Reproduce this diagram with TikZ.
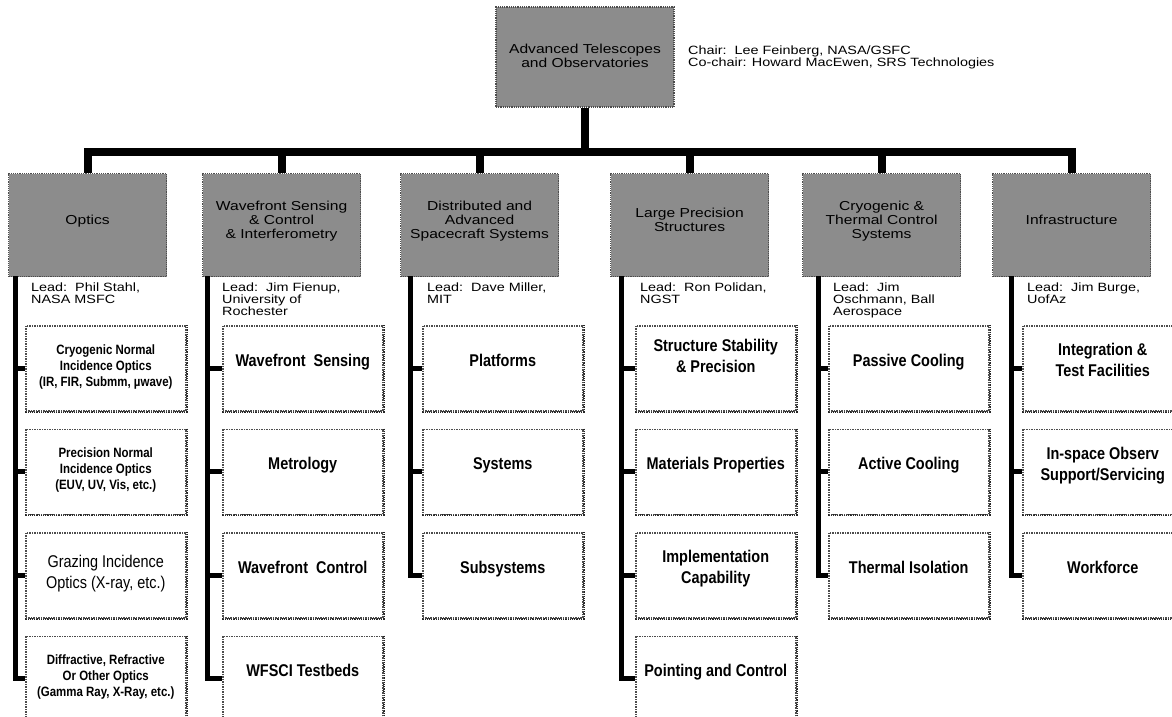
\documentclass[tikz,border=0pt]{standalone}
\usepackage{fontspec}
\setmainfont{Liberation Sans}
\newfontfamily\leadfont[FakeStretch=1.2]{Liberation Sans}
\newfontfamily\itemfont[FakeStretch=0.85]{Liberation Sans}
\definecolor{halftone}{gray}{0.55}
\definecolor{dotline}{gray}{0.3}
\usepackage{tikz}
\usetikzlibrary{positioning}
\tikzset{
  rimline/.style={draw=black!85, dash pattern=on 1.2pt off 1pt, line width=2pt},
  headbox/.style={fill=halftone, draw=dotline, densely dotted, line width=1.2pt,
    minimum width=158pt, minimum height=103pt, align=center, text depth=10pt,
    font=\leadfont\fontsize{13}{14}\selectfont, anchor=north west},
  topbox/.style={headbox, minimum width=178pt, minimum height=100pt, anchor=center,
    text depth=3pt},
  subbox/.style={draw=dotline, densely dotted, line width=1.5pt,
    minimum width=160pt, minimum height=85pt, align=center, text depth=16pt,
    font=\itemfont\bfseries\fontsize{17}{21}\selectfont,
    append after command={\pgfextra{\draw [rimline] (\tikzlastnode.north east)
      -- (\tikzlastnode.south east) -- (\tikzlastnode.south west);}}},
  smallbox/.style={subbox, text depth=6pt, font=\itemfont\bfseries\fontsize{13.5}{16}\selectfont},
  leadtext/.style={anchor=north west, align=left, inner sep=0pt,
    font=\leadfont\fontsize{12}{12}\selectfont},
  trunkline/.style={line width=8pt},
  branchline/.style={line width=5pt},
}

\begin{document}
\begin{tikzpicture}[x=1pt,y=-1pt]
    \useasboundingbox (0,0) rectangle (1172,716);

    % chart head
    \node [topbox] (top) at (585,57) {Advanced Telescopes\\and Observatories};
    \node [leadtext, anchor=west] (chair) at (688,57)
        {Chair:\ \ Lee Feinberg, NASA/GSFC\\Co-chair: Howard MacEwen, SRS Technologies};
    \coordinate (hub) at (585,152);

    % column heads
    \node [headbox] (h1) at (8,173) {Optics};
    \node [headbox] (h2) at (202,173) {Wavefront Sensing\\\& Control\\\& Interferometry};
    \node [headbox] (h3) at (400,173) {Distributed and\\Advanced\\Spacecraft Systems};
    \node [headbox] (h4) at (610,173) {Large Precision\\Structures};
    \node [headbox] (h5) at (802,173) {Cryogenic \&\\Thermal Control\\Systems};
    \node [headbox] (h6) at (992,173) {Infrastructure};

    % leads
    \node [leadtext] (l1) at (31,283) {Lead:\ \ Phil Stahl,\\NASA MSFC};
    \node [leadtext] (l2) at (222,283) {Lead:\ \ Jim Fienup,\\University of\\Rochester};
    \node [leadtext] (l3) at (427,283) {Lead:\ \ Dave Miller,\\MIT};
    \node [leadtext] (l4) at (640,283) {Lead:\ \ Ron Polidan,\\NGST};
    \node [leadtext] (l5) at (833,283) {Lead:\ \ Jim\\Oschmann, Ball\\Aerospace};
    \node [leadtext] (l6) at (1027,283) {Lead:\ \ Jim Burge,\\UofAz};

    % optics
    \node [smallbox, anchor=north west] (o1) at (25,325)
        {Cryogenic Normal\\Incidence Optics\\(IR, FIR, Submm, µwave)};
    \node [smallbox, below=17pt of o1] (o2)
        {Precision Normal\\Incidence Optics\\(EUV, UV, Vis, etc.)};
    \node [subbox, below=17pt of o2, text depth=6pt,
        font=\itemfont\fontsize{17}{21}\selectfont] (o3)
        {Grazing Incidence\\Optics (X-ray, etc.)};
    \node [smallbox, below=17pt of o3] (o4)
        {Diffractive, Refractive\\Or Other Optics\\(Gamma Ray, X-Ray, etc.)};

    % wavefront sensing and control
    \node [subbox, anchor=north west] (w1) at (222,325) {Wavefront\ \ Sensing};
    \node [subbox, below=17pt of w1] (w2) {Metrology};
    \node [subbox, below=17pt of w2] (w3) {Wavefront\ \ Control};
    \node [subbox, below=17pt of w3] (w4) {WFSCI Testbeds};

    % spacecraft systems
    \node [subbox, anchor=north west] (d1) at (422,325) {Platforms};
    \node [subbox, below=17pt of d1] (d2) {Systems};
    \node [subbox, below=17pt of d2] (d3) {Subsystems};

    % structures
    \node [subbox, anchor=north west, text depth=24pt] (s1) at (635,325)
        {Structure Stability\\\& Precision};
    \node [subbox, below=17pt of s1] (s2) {Materials Properties};
    \node [subbox, below=17pt of s2] (s3) {Implementation\\Capability};
    \node [subbox, below=17pt of s3] (s4) {Pointing and Control};

    % cryogenic and thermal
    \node [subbox, anchor=north west] (c1) at (828,325) {Passive Cooling};
    \node [subbox, below=17pt of c1] (c2) {Active Cooling};
    \node [subbox, below=17pt of c2] (c3) {Thermal Isolation};

    % infrastructure
    \node [subbox, anchor=north west] (i1) at (1022,325) {Integration \&\\Test Facilities};
    \node [subbox, below=17pt of i1] (i2) {In-space Observ\\Support/Servicing};
    \node [subbox, below=17pt of i2] (i3) {Workforce};

    % tree
    \draw [trunkline] (top.south) -- (hub);
    \draw [trunkline] (h1.north) |- (hub) -| (h6.north);
    \draw [trunkline] (h2.north) -- (h2.north |- hub);
    \draw [trunkline] (h3.north) -- (h3.north |- hub);
    \draw [trunkline] (h4.north) -- (h4.north |- hub);
    \draw [trunkline] (h5.north) -- (h5.north |- hub);

    \coordinate (sp1) at (15,276);
    \coordinate (sp2) at (207,276);
    \coordinate (sp3) at (410,276);
    \coordinate (sp4) at (621,276);
    \coordinate (sp5) at (818,276);
    \coordinate (sp6) at (1011,276);

    \draw [branchline] (sp1) |- (o4.west);
    \draw [branchline] (o1.west) -- (o1.west -| sp1);
    \draw [branchline] (o2.west) -- (o2.west -| sp1);
    \draw [branchline] (o3.west) -- (o3.west -| sp1);

    \draw [branchline] (sp2) |- (w4.west);
    \draw [branchline] (w1.west) -- (w1.west -| sp2);
    \draw [branchline] (w2.west) -- (w2.west -| sp2);
    \draw [branchline] (w3.west) -- (w3.west -| sp2);

    \draw [branchline] (sp3) |- (d3.west);
    \draw [branchline] (d1.west) -- (d1.west -| sp3);
    \draw [branchline] (d2.west) -- (d2.west -| sp3);

    \draw [branchline] (sp4) |- (s4.west);
    \draw [branchline] (s1.west) -- (s1.west -| sp4);
    \draw [branchline] (s2.west) -- (s2.west -| sp4);
    \draw [branchline] (s3.west) -- (s3.west -| sp4);

    \draw [branchline] (sp5) |- (c3.west);
    \draw [branchline] (c1.west) -- (c1.west -| sp5);
    \draw [branchline] (c2.west) -- (c2.west -| sp5);

    \draw [branchline] (sp6) |- (i3.west);
    \draw [branchline] (i1.west) -- (i1.west -| sp6);
    \draw [branchline] (i2.west) -- (i2.west -| sp6);
\end{tikzpicture}
\end{document}
